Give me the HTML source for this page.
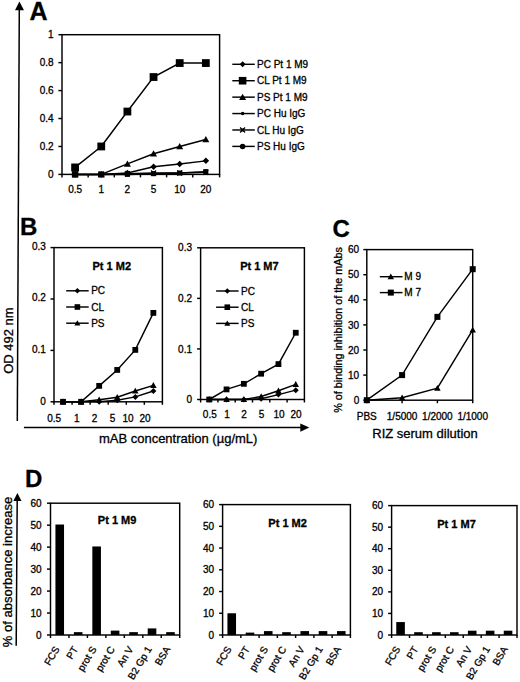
<!DOCTYPE html>
<html><head><meta charset="utf-8"><style>
html,body{margin:0;padding:0;background:#fff;}
body{width:520px;height:682px;overflow:hidden;}
svg{display:block;}
text{font-family:"Liberation Sans",sans-serif;fill:#000;stroke:#000;stroke-width:0.3px;}
</style></head><body>
<svg width="520" height="682" viewBox="0 0 520 682">
<g stroke="#000" fill="#000" stroke-linecap="butt">
<line x1="19.30" y1="9.00" x2="17.30" y2="421.00" stroke-width="1.5"/>
<path d="M19.4 1.4L24 10.2L15 10.2Z" stroke="none"/>
<text x="29.40" y="19.50" font-size="25" text-anchor="start" font-weight="bold" >A</text>
<text x="19.90" y="234.90" font-size="24" text-anchor="start" font-weight="bold" >B</text>
<text x="332.60" y="236.60" font-size="24" text-anchor="start" font-weight="bold" >C</text>
<text x="25.00" y="486.50" font-size="24" text-anchor="start" font-weight="bold" >D</text>
<text x="0.00" y="0.00" font-size="13" text-anchor="middle" transform="translate(13.4 340.6) rotate(-90)">OD 492 nm</text>
<line x1="23.90" y1="427.50" x2="301.00" y2="427.50" stroke-width="1.5"/>
<path d="M309.3 427.6L300.3 423.4L300.3 431.8Z" stroke="none"/>
<text x="98.90" y="442.60" font-size="13" text-anchor="start" >mAB concentration (&#181;g/mL)</text>
<rect x="62.0" y="34.7" width="157.6" height="139.7" fill="none" stroke-width="1.45"/>
<line x1="58.40" y1="174.40" x2="62.00" y2="174.40" stroke-width="1.45"/>
<text x="53.60" y="178.00" font-size="10" text-anchor="end" >0</text>
<line x1="58.40" y1="146.46" x2="62.00" y2="146.46" stroke-width="1.45"/>
<text x="53.60" y="150.06" font-size="10" text-anchor="end" >0.2</text>
<line x1="58.40" y1="118.52" x2="62.00" y2="118.52" stroke-width="1.45"/>
<text x="53.60" y="122.12" font-size="10" text-anchor="end" >0.4</text>
<line x1="58.40" y1="90.58" x2="62.00" y2="90.58" stroke-width="1.45"/>
<text x="53.60" y="94.18" font-size="10" text-anchor="end" >0.6</text>
<line x1="58.40" y1="62.64" x2="62.00" y2="62.64" stroke-width="1.45"/>
<text x="53.60" y="66.24" font-size="10" text-anchor="end" >0.8</text>
<line x1="58.40" y1="34.70" x2="62.00" y2="34.70" stroke-width="1.45"/>
<text x="53.60" y="38.30" font-size="10" text-anchor="end" >1</text>
<line x1="62.00" y1="174.40" x2="62.00" y2="177.40" stroke-width="1.45"/>
<line x1="88.15" y1="174.40" x2="88.15" y2="177.40" stroke-width="1.45"/>
<line x1="114.30" y1="174.40" x2="114.30" y2="177.40" stroke-width="1.45"/>
<line x1="140.45" y1="174.40" x2="140.45" y2="177.40" stroke-width="1.45"/>
<line x1="166.60" y1="174.40" x2="166.60" y2="177.40" stroke-width="1.45"/>
<line x1="192.75" y1="174.40" x2="192.75" y2="177.40" stroke-width="1.45"/>
<line x1="219.60" y1="174.40" x2="219.60" y2="177.40" stroke-width="1.45"/>
<text x="75.10" y="193.00" font-size="10" text-anchor="middle" >0.5</text>
<text x="101.25" y="193.00" font-size="10" text-anchor="middle" >1</text>
<text x="127.40" y="193.00" font-size="10" text-anchor="middle" >2</text>
<text x="153.55" y="193.00" font-size="10" text-anchor="middle" >5</text>
<text x="179.70" y="193.00" font-size="10" text-anchor="middle" >10</text>
<text x="205.85" y="193.00" font-size="10" text-anchor="middle" >20</text>
<path d="M75.10 174.40L101.25 174.40L127.40 174.40L153.55 173.70L179.70 173.00L205.85 171.61" fill="none" stroke-width="1.45"/>
<rect x="72.60" y="171.90" width="5.00" height="5.00" stroke="none"/>
<rect x="98.75" y="171.90" width="5.00" height="5.00" stroke="none"/>
<rect x="124.90" y="171.90" width="5.00" height="5.00" stroke="none"/>
<rect x="151.05" y="171.20" width="5.00" height="5.00" stroke="none"/>
<rect x="177.20" y="170.50" width="5.00" height="5.00" stroke="none"/>
<rect x="203.35" y="169.11" width="5.00" height="5.00" stroke="none"/>
<path d="M75.10 174.40L101.25 174.40L127.40 173.70L153.55 173.00L179.70 173.00L205.85 172.30" fill="none" stroke-width="1.45"/>
<path d="M72.60 171.90L77.60 176.90M77.60 171.90L72.60 176.90" stroke-width="1.2" fill="none"/>
<rect x="73.60" y="172.90" width="3.00" height="3.00" stroke="none"/>
<path d="M98.75 171.90L103.75 176.90M103.75 171.90L98.75 176.90" stroke-width="1.2" fill="none"/>
<rect x="99.75" y="172.90" width="3.00" height="3.00" stroke="none"/>
<path d="M124.90 171.20L129.90 176.20M129.90 171.20L124.90 176.20" stroke-width="1.2" fill="none"/>
<rect x="125.90" y="172.20" width="3.00" height="3.00" stroke="none"/>
<path d="M151.05 170.50L156.05 175.50M156.05 170.50L151.05 175.50" stroke-width="1.2" fill="none"/>
<rect x="152.05" y="171.50" width="3.00" height="3.00" stroke="none"/>
<path d="M177.20 170.50L182.20 175.50M182.20 170.50L177.20 175.50" stroke-width="1.2" fill="none"/>
<rect x="178.20" y="171.50" width="3.00" height="3.00" stroke="none"/>
<path d="M203.35 169.80L208.35 174.80M208.35 169.80L203.35 174.80" stroke-width="1.2" fill="none"/>
<rect x="204.35" y="170.80" width="3.00" height="3.00" stroke="none"/>
<path d="M75.10 174.40L101.25 174.40L127.40 173.00L153.55 166.72L179.70 163.92L205.85 160.85" fill="none" stroke-width="1.45"/>
<path d="M75.10 171.15L78.35 174.40L75.10 177.65L71.85 174.40Z" stroke="none"/>
<path d="M101.25 171.15L104.50 174.40L101.25 177.65L98.00 174.40Z" stroke="none"/>
<path d="M127.40 169.75L130.65 173.00L127.40 176.25L124.15 173.00Z" stroke="none"/>
<path d="M153.55 163.47L156.80 166.72L153.55 169.97L150.30 166.72Z" stroke="none"/>
<path d="M179.70 160.67L182.95 163.92L179.70 167.17L176.45 163.92Z" stroke="none"/>
<path d="M205.85 157.60L209.10 160.85L205.85 164.10L202.60 160.85Z" stroke="none"/>
<path d="M101.25 174.40L127.40 163.92L153.55 153.72L179.70 146.46L205.85 139.48" fill="none" stroke-width="1.45"/>
<path d="M101.25 170.90L104.75 177.20L97.75 177.20Z" stroke="none"/>
<path d="M127.40 160.42L130.90 166.72L123.90 166.72Z" stroke="none"/>
<path d="M153.55 150.22L157.05 156.52L150.05 156.52Z" stroke="none"/>
<path d="M179.70 142.96L183.20 149.26L176.20 149.26Z" stroke="none"/>
<path d="M205.85 135.98L209.35 142.28L202.35 142.28Z" stroke="none"/>
<path d="M75.10 167.42L101.25 146.46L127.40 111.54L153.55 77.03L179.70 63.06L205.85 63.06" fill="none" stroke-width="1.45"/>
<rect x="71.20" y="163.52" width="7.80" height="7.80" stroke="none"/>
<rect x="97.35" y="142.56" width="7.80" height="7.80" stroke="none"/>
<rect x="123.50" y="107.64" width="7.80" height="7.80" stroke="none"/>
<rect x="149.65" y="73.13" width="7.80" height="7.80" stroke="none"/>
<rect x="175.80" y="59.16" width="7.80" height="7.80" stroke="none"/>
<rect x="201.95" y="59.16" width="7.80" height="7.80" stroke="none"/>
<rect x="71.85" y="171.15" width="6.50" height="6.50" stroke="none"/>
<rect x="98.25" y="171.40" width="6.00" height="6.00" stroke="none"/>
<line x1="232.30" y1="64.30" x2="254.80" y2="64.30" stroke-width="1.45"/>
<path d="M242.60 61.30L245.60 64.30L242.60 67.30L239.60 64.30Z" stroke="none"/>
<text x="257.00" y="67.90" font-size="10" text-anchor="start" >PC Pt 1 M9</text>
<line x1="232.30" y1="80.72" x2="254.80" y2="80.72" stroke-width="1.45"/>
<rect x="238.80" y="76.92" width="7.60" height="7.60" stroke="none"/>
<text x="257.00" y="84.32" font-size="10" text-anchor="start" >CL Pt 1 M9</text>
<line x1="232.30" y1="97.14" x2="254.80" y2="97.14" stroke-width="1.45"/>
<path d="M242.60 93.64L246.10 99.94L239.10 99.94Z" stroke="none"/>
<text x="257.00" y="100.74" font-size="10" text-anchor="start" >PS Pt 1 M9</text>
<line x1="232.30" y1="113.56" x2="254.80" y2="113.56" stroke-width="1.45"/>
<circle cx="242.60" cy="113.56" r="1.75" stroke="none"/>
<text x="257.00" y="117.16" font-size="10" text-anchor="start" >PC Hu IgG</text>
<line x1="232.30" y1="129.98" x2="254.80" y2="129.98" stroke-width="1.45"/>
<path d="M240.10 127.48L245.10 132.48M245.10 127.48L240.10 132.48" stroke-width="1.2" fill="none"/>
<rect x="241.10" y="128.48" width="3.00" height="3.00" stroke="none"/>
<text x="257.00" y="133.58" font-size="10" text-anchor="start" >CL Hu IgG</text>
<line x1="232.30" y1="146.40" x2="254.80" y2="146.40" stroke-width="1.45"/>
<circle cx="242.60" cy="146.40" r="2.75" stroke="none"/>
<text x="257.00" y="150.00" font-size="10" text-anchor="start" >PS Hu IgG</text>
<rect x="54.0" y="247.6" width="108.4" height="154.20000000000002" fill="none" stroke-width="1.45"/>
<line x1="50.50" y1="401.80" x2="54.00" y2="401.80" stroke-width="1.45"/>
<text x="45.80" y="405.00" font-size="10" text-anchor="end" >0</text>
<line x1="50.50" y1="350.40" x2="54.00" y2="350.40" stroke-width="1.45"/>
<text x="45.80" y="353.20" font-size="10" text-anchor="end" >0.1</text>
<line x1="50.50" y1="299.00" x2="54.00" y2="299.00" stroke-width="1.45"/>
<text x="45.80" y="301.40" font-size="10" text-anchor="end" >0.2</text>
<line x1="50.50" y1="247.60" x2="54.00" y2="247.60" stroke-width="1.45"/>
<text x="45.80" y="249.60" font-size="10" text-anchor="end" >0.3</text>
<line x1="54.00" y1="401.80" x2="54.00" y2="404.80" stroke-width="1.45"/>
<line x1="72.07" y1="401.80" x2="72.07" y2="404.80" stroke-width="1.45"/>
<line x1="90.13" y1="401.80" x2="90.13" y2="404.80" stroke-width="1.45"/>
<line x1="108.20" y1="401.80" x2="108.20" y2="404.80" stroke-width="1.45"/>
<line x1="126.27" y1="401.80" x2="126.27" y2="404.80" stroke-width="1.45"/>
<line x1="144.33" y1="401.80" x2="144.33" y2="404.80" stroke-width="1.45"/>
<line x1="162.40" y1="401.80" x2="162.40" y2="404.80" stroke-width="1.45"/>
<text x="54.20" y="421.80" font-size="10" text-anchor="middle" >0.5</text>
<text x="76.70" y="421.80" font-size="10" text-anchor="middle" >1</text>
<text x="94.50" y="421.80" font-size="10" text-anchor="middle" >2</text>
<text x="112.50" y="421.80" font-size="10" text-anchor="middle" >5</text>
<text x="128.00" y="421.80" font-size="10" text-anchor="middle" >10</text>
<text x="145.00" y="421.80" font-size="10" text-anchor="middle" >20</text>
<path d="M63.03 401.80L81.10 401.80L99.17 401.80L117.23 400.26L135.30 396.92L153.37 391.01" fill="none" stroke-width="1.45"/>
<path d="M63.03 398.80L66.03 401.80L63.03 404.80L60.03 401.80Z" stroke="none"/>
<path d="M81.10 398.80L84.10 401.80L81.10 404.80L78.10 401.80Z" stroke="none"/>
<path d="M99.17 398.80L102.17 401.80L99.17 404.80L96.17 401.80Z" stroke="none"/>
<path d="M117.23 397.26L120.23 400.26L117.23 403.26L114.23 400.26Z" stroke="none"/>
<path d="M135.30 393.92L138.30 396.92L135.30 399.92L132.30 396.92Z" stroke="none"/>
<path d="M153.37 388.01L156.37 391.01L153.37 394.01L150.37 391.01Z" stroke="none"/>
<path d="M63.03 401.80L81.10 401.80L99.17 399.74L117.23 397.17L135.30 391.01L153.37 385.35" fill="none" stroke-width="1.45"/>
<path d="M63.03 398.55L66.28 404.40L59.78 404.40Z" stroke="none"/>
<path d="M81.10 398.55L84.35 404.40L77.85 404.40Z" stroke="none"/>
<path d="M99.17 396.49L102.42 402.34L95.92 402.34Z" stroke="none"/>
<path d="M117.23 393.92L120.48 399.77L113.98 399.77Z" stroke="none"/>
<path d="M135.30 387.76L138.55 393.61L132.05 393.61Z" stroke="none"/>
<path d="M153.37 382.10L156.62 387.95L150.12 387.95Z" stroke="none"/>
<path d="M63.03 401.80L81.10 401.80L99.17 385.87L117.23 369.93L135.30 349.89L153.37 312.88" fill="none" stroke-width="1.45"/>
<rect x="60.13" y="398.90" width="5.80" height="5.80" stroke="none"/>
<rect x="78.20" y="398.90" width="5.80" height="5.80" stroke="none"/>
<rect x="96.27" y="382.97" width="5.80" height="5.80" stroke="none"/>
<rect x="114.33" y="367.03" width="5.80" height="5.80" stroke="none"/>
<rect x="132.40" y="346.99" width="5.80" height="5.80" stroke="none"/>
<rect x="150.47" y="309.98" width="5.80" height="5.80" stroke="none"/>
<text x="111.80" y="269.60" font-size="11" text-anchor="middle" font-weight="bold" >Pt 1 M2</text>
<line x1="66.20" y1="290.80" x2="88.70" y2="290.80" stroke-width="1.45"/>
<path d="M77.40 288.05L80.15 290.80L77.40 293.55L74.65 290.80Z" stroke="none"/>
<text x="91.20" y="294.40" font-size="10" text-anchor="start" >PC</text>
<line x1="66.20" y1="307.00" x2="88.70" y2="307.00" stroke-width="1.45"/>
<rect x="74.60" y="304.20" width="5.60" height="5.60" stroke="none"/>
<text x="91.20" y="310.60" font-size="10" text-anchor="start" >CL</text>
<line x1="66.20" y1="323.20" x2="88.70" y2="323.20" stroke-width="1.45"/>
<path d="M77.40 320.20L80.40 325.60L74.40 325.60Z" stroke="none"/>
<text x="91.20" y="326.80" font-size="10" text-anchor="start" >PS</text>
<rect x="200.6" y="247.8" width="103.79999999999998" height="151.7" fill="none" stroke-width="1.45"/>
<line x1="197.10" y1="399.50" x2="200.60" y2="399.50" stroke-width="1.45"/>
<text x="192.00" y="403.10" font-size="10" text-anchor="end" >0</text>
<line x1="197.10" y1="348.93" x2="200.60" y2="348.93" stroke-width="1.45"/>
<text x="192.00" y="352.53" font-size="10" text-anchor="end" >0.1</text>
<line x1="197.10" y1="298.37" x2="200.60" y2="298.37" stroke-width="1.45"/>
<text x="192.00" y="301.97" font-size="10" text-anchor="end" >0.2</text>
<line x1="197.10" y1="247.80" x2="200.60" y2="247.80" stroke-width="1.45"/>
<text x="192.00" y="251.40" font-size="10" text-anchor="end" >0.3</text>
<line x1="200.60" y1="399.50" x2="200.60" y2="402.50" stroke-width="1.45"/>
<line x1="217.90" y1="399.50" x2="217.90" y2="402.50" stroke-width="1.45"/>
<line x1="235.20" y1="399.50" x2="235.20" y2="402.50" stroke-width="1.45"/>
<line x1="252.50" y1="399.50" x2="252.50" y2="402.50" stroke-width="1.45"/>
<line x1="269.80" y1="399.50" x2="269.80" y2="402.50" stroke-width="1.45"/>
<line x1="287.10" y1="399.50" x2="287.10" y2="402.50" stroke-width="1.45"/>
<line x1="304.40" y1="399.50" x2="304.40" y2="402.50" stroke-width="1.45"/>
<text x="209.80" y="418.30" font-size="10" text-anchor="middle" >0.5</text>
<text x="227.00" y="418.30" font-size="10" text-anchor="middle" >1</text>
<text x="244.00" y="418.30" font-size="10" text-anchor="middle" >2</text>
<text x="261.50" y="418.30" font-size="10" text-anchor="middle" >5</text>
<text x="279.00" y="418.30" font-size="10" text-anchor="middle" >10</text>
<text x="296.00" y="418.30" font-size="10" text-anchor="middle" >20</text>
<path d="M209.25 399.50L226.55 399.50L243.85 399.50L261.15 398.74L278.45 394.60L295.75 390.15" fill="none" stroke-width="1.45"/>
<path d="M209.25 396.50L212.25 399.50L209.25 402.50L206.25 399.50Z" stroke="none"/>
<path d="M226.55 396.50L229.55 399.50L226.55 402.50L223.55 399.50Z" stroke="none"/>
<path d="M243.85 396.50L246.85 399.50L243.85 402.50L240.85 399.50Z" stroke="none"/>
<path d="M261.15 395.74L264.15 398.74L261.15 401.74L258.15 398.74Z" stroke="none"/>
<path d="M278.45 391.60L281.45 394.60L278.45 397.60L275.45 394.60Z" stroke="none"/>
<path d="M295.75 387.15L298.75 390.15L295.75 393.15L292.75 390.15Z" stroke="none"/>
<path d="M209.25 399.50L226.55 399.50L243.85 399.50L261.15 396.47L278.45 390.80L295.75 384.33" fill="none" stroke-width="1.45"/>
<path d="M209.25 396.25L212.50 402.10L206.00 402.10Z" stroke="none"/>
<path d="M226.55 396.25L229.80 402.10L223.30 402.10Z" stroke="none"/>
<path d="M243.85 396.25L247.10 402.10L240.60 402.10Z" stroke="none"/>
<path d="M261.15 393.22L264.40 399.07L257.90 399.07Z" stroke="none"/>
<path d="M278.45 387.55L281.70 393.40L275.20 393.40Z" stroke="none"/>
<path d="M295.75 381.08L299.00 386.93L292.50 386.93Z" stroke="none"/>
<path d="M209.25 399.50L226.55 389.39L243.85 383.82L261.15 373.71L278.45 364.10L295.75 332.75" fill="none" stroke-width="1.45"/>
<rect x="206.35" y="396.60" width="5.80" height="5.80" stroke="none"/>
<rect x="223.65" y="386.49" width="5.80" height="5.80" stroke="none"/>
<rect x="240.95" y="380.92" width="5.80" height="5.80" stroke="none"/>
<rect x="258.25" y="370.81" width="5.80" height="5.80" stroke="none"/>
<rect x="275.55" y="361.20" width="5.80" height="5.80" stroke="none"/>
<rect x="292.85" y="329.85" width="5.80" height="5.80" stroke="none"/>
<text x="259.40" y="269.80" font-size="11" text-anchor="middle" font-weight="bold" >Pt 1 M7</text>
<line x1="216.10" y1="291.00" x2="238.60" y2="291.00" stroke-width="1.45"/>
<path d="M227.30 288.25L230.05 291.00L227.30 293.75L224.55 291.00Z" stroke="none"/>
<text x="241.10" y="294.60" font-size="10" text-anchor="start" >PC</text>
<line x1="216.10" y1="307.20" x2="238.60" y2="307.20" stroke-width="1.45"/>
<rect x="224.50" y="304.40" width="5.60" height="5.60" stroke="none"/>
<text x="241.10" y="310.80" font-size="10" text-anchor="start" >CL</text>
<line x1="216.10" y1="323.40" x2="238.60" y2="323.40" stroke-width="1.45"/>
<path d="M227.30 320.40L230.30 325.80L224.30 325.80Z" stroke="none"/>
<text x="241.10" y="327.00" font-size="10" text-anchor="start" >PS</text>
<rect x="366.8" y="249.6" width="105.89999999999998" height="150.6" fill="none" stroke-width="1.45"/>
<line x1="363.30" y1="400.20" x2="366.80" y2="400.20" stroke-width="1.45"/>
<text x="359.20" y="403.80" font-size="10" text-anchor="end" >0</text>
<line x1="363.30" y1="375.10" x2="366.80" y2="375.10" stroke-width="1.45"/>
<text x="359.20" y="378.70" font-size="10" text-anchor="end" >10</text>
<line x1="363.30" y1="350.00" x2="366.80" y2="350.00" stroke-width="1.45"/>
<text x="359.20" y="353.60" font-size="10" text-anchor="end" >20</text>
<line x1="363.30" y1="324.90" x2="366.80" y2="324.90" stroke-width="1.45"/>
<text x="359.20" y="328.50" font-size="10" text-anchor="end" >30</text>
<line x1="363.30" y1="299.80" x2="366.80" y2="299.80" stroke-width="1.45"/>
<text x="359.20" y="303.40" font-size="10" text-anchor="end" >40</text>
<line x1="363.30" y1="274.70" x2="366.80" y2="274.70" stroke-width="1.45"/>
<text x="359.20" y="278.30" font-size="10" text-anchor="end" >50</text>
<line x1="363.30" y1="249.60" x2="366.80" y2="249.60" stroke-width="1.45"/>
<text x="359.20" y="253.20" font-size="10" text-anchor="end" >60</text>
<line x1="366.80" y1="400.20" x2="366.80" y2="403.20" stroke-width="1.45"/>
<line x1="402.10" y1="400.20" x2="402.10" y2="403.20" stroke-width="1.45"/>
<line x1="437.40" y1="400.20" x2="437.40" y2="403.20" stroke-width="1.45"/>
<line x1="472.70" y1="400.20" x2="472.70" y2="403.20" stroke-width="1.45"/>
<text x="366.80" y="419.60" font-size="10" text-anchor="middle" >PBS</text>
<text x="402.10" y="419.60" font-size="10" text-anchor="middle" >1/5000</text>
<text x="437.40" y="419.60" font-size="10" text-anchor="middle" >1/2000</text>
<text x="472.70" y="419.60" font-size="10" text-anchor="middle" >1/1000</text>
<text x="0.00" y="0.00" font-size="10.8" text-anchor="middle" transform="translate(342.2 330.0) rotate(-90)">% of binding inhibition of the mAbs</text>
<text x="425.00" y="437.70" font-size="13" text-anchor="middle" >RIZ serum dilution</text>
<path d="M366.80 400.20L402.10 397.69L437.40 388.15L472.70 329.92" fill="none" stroke-width="1.45"/>
<path d="M366.80 396.95L370.05 402.80L363.55 402.80Z" stroke="none"/>
<path d="M402.10 394.44L405.35 400.29L398.85 400.29Z" stroke="none"/>
<path d="M437.40 384.90L440.65 390.75L434.15 390.75Z" stroke="none"/>
<path d="M472.70 326.67L475.95 332.52L469.45 332.52Z" stroke="none"/>
<path d="M366.80 400.20L402.10 375.10L437.40 316.87L472.70 269.18" fill="none" stroke-width="1.45"/>
<rect x="363.80" y="397.20" width="6.00" height="6.00" stroke="none"/>
<rect x="399.10" y="372.10" width="6.00" height="6.00" stroke="none"/>
<rect x="434.40" y="313.87" width="6.00" height="6.00" stroke="none"/>
<rect x="469.70" y="266.18" width="6.00" height="6.00" stroke="none"/>
<line x1="379.80" y1="276.70" x2="402.50" y2="276.70" stroke-width="1.45"/>
<path d="M390.80 273.45L394.05 279.30L387.55 279.30Z" stroke="none"/>
<text x="404.30" y="280.30" font-size="10" text-anchor="start" >M 9</text>
<line x1="379.80" y1="292.60" x2="402.50" y2="292.60" stroke-width="1.45"/>
<rect x="387.80" y="289.60" width="6.00" height="6.00" stroke="none"/>
<text x="404.30" y="296.20" font-size="10" text-anchor="start" >M 7</text>
<line x1="17.20" y1="500.00" x2="16.20" y2="645.70" stroke-width="1.5"/>
<path d="M17.4 492.9L21.5 500.9L13.4 500.9Z" stroke="none"/>
<text x="0.00" y="0.00" font-size="13" text-anchor="middle" transform="translate(11.9 572) rotate(-90)">% of absorbance increase</text>
<rect x="50.5" y="503.2" width="129.2" height="131.8" fill="none" stroke-width="1.45"/>
<line x1="47.00" y1="635.00" x2="50.50" y2="635.00" stroke-width="1.45"/>
<text x="41.60" y="638.60" font-size="10" text-anchor="end" >0</text>
<line x1="47.00" y1="613.03" x2="50.50" y2="613.03" stroke-width="1.45"/>
<text x="41.60" y="616.63" font-size="10" text-anchor="end" >10</text>
<line x1="47.00" y1="591.07" x2="50.50" y2="591.07" stroke-width="1.45"/>
<text x="41.60" y="594.67" font-size="10" text-anchor="end" >20</text>
<line x1="47.00" y1="569.10" x2="50.50" y2="569.10" stroke-width="1.45"/>
<text x="41.60" y="572.70" font-size="10" text-anchor="end" >30</text>
<line x1="47.00" y1="547.13" x2="50.50" y2="547.13" stroke-width="1.45"/>
<text x="41.60" y="550.73" font-size="10" text-anchor="end" >40</text>
<line x1="47.00" y1="525.17" x2="50.50" y2="525.17" stroke-width="1.45"/>
<text x="41.60" y="528.77" font-size="10" text-anchor="end" >50</text>
<line x1="47.00" y1="503.20" x2="50.50" y2="503.20" stroke-width="1.45"/>
<text x="41.60" y="506.80" font-size="10" text-anchor="end" >60</text>
<line x1="50.50" y1="635.00" x2="50.50" y2="638.00" stroke-width="1.45"/>
<line x1="68.96" y1="635.00" x2="68.96" y2="638.00" stroke-width="1.45"/>
<line x1="87.41" y1="635.00" x2="87.41" y2="638.00" stroke-width="1.45"/>
<line x1="105.87" y1="635.00" x2="105.87" y2="638.00" stroke-width="1.45"/>
<line x1="124.33" y1="635.00" x2="124.33" y2="638.00" stroke-width="1.45"/>
<line x1="142.79" y1="635.00" x2="142.79" y2="638.00" stroke-width="1.45"/>
<line x1="161.24" y1="635.00" x2="161.24" y2="638.00" stroke-width="1.45"/>
<line x1="179.70" y1="635.00" x2="179.70" y2="638.00" stroke-width="1.45"/>
<rect x="55.43" y="524.51" width="8.6" height="110.49" stroke="none"/>
<text x="0.00" y="0.00" font-size="10" text-anchor="end" transform="translate(59.93 649.00) rotate(-59)">FCS</text>
<rect x="73.89" y="632.14" width="8.6" height="2.86" stroke="none"/>
<text x="0.00" y="0.00" font-size="10" text-anchor="end" transform="translate(78.39 649.00) rotate(-59)">PT</text>
<rect x="92.34" y="546.47" width="8.6" height="88.53" stroke="none"/>
<text x="0.00" y="0.00" font-size="10" text-anchor="end" transform="translate(96.84 649.00) rotate(-59)">prot S</text>
<rect x="110.80" y="630.61" width="8.6" height="4.39" stroke="none"/>
<text x="0.00" y="0.00" font-size="10" text-anchor="end" transform="translate(115.30 649.00) rotate(-59)">prot C</text>
<rect x="129.26" y="632.14" width="8.6" height="2.86" stroke="none"/>
<text x="0.00" y="0.00" font-size="10" text-anchor="end" transform="translate(133.76 649.00) rotate(-59)">An V</text>
<rect x="147.71" y="628.41" width="8.6" height="6.59" stroke="none"/>
<text x="0.00" y="0.00" font-size="10" text-anchor="end" transform="translate(152.21 649.00) rotate(-59)">B2 Gp 1</text>
<rect x="166.17" y="632.14" width="8.6" height="2.86" stroke="none"/>
<text x="0.00" y="0.00" font-size="10" text-anchor="end" transform="translate(170.67 649.00) rotate(-59)">BSA</text>
<text x="117.10" y="523.80" font-size="11" text-anchor="middle" font-weight="bold" >Pt 1 M9</text>
<rect x="222.6" y="504.6" width="127.79999999999998" height="130.39999999999998" fill="none" stroke-width="1.45"/>
<line x1="219.10" y1="635.00" x2="222.60" y2="635.00" stroke-width="1.45"/>
<text x="214.00" y="638.60" font-size="10" text-anchor="end" >0</text>
<line x1="219.10" y1="613.27" x2="222.60" y2="613.27" stroke-width="1.45"/>
<text x="214.00" y="616.87" font-size="10" text-anchor="end" >10</text>
<line x1="219.10" y1="591.53" x2="222.60" y2="591.53" stroke-width="1.45"/>
<text x="214.00" y="595.13" font-size="10" text-anchor="end" >20</text>
<line x1="219.10" y1="569.80" x2="222.60" y2="569.80" stroke-width="1.45"/>
<text x="214.00" y="573.40" font-size="10" text-anchor="end" >30</text>
<line x1="219.10" y1="548.07" x2="222.60" y2="548.07" stroke-width="1.45"/>
<text x="214.00" y="551.67" font-size="10" text-anchor="end" >40</text>
<line x1="219.10" y1="526.33" x2="222.60" y2="526.33" stroke-width="1.45"/>
<text x="214.00" y="529.93" font-size="10" text-anchor="end" >50</text>
<line x1="219.10" y1="504.60" x2="222.60" y2="504.60" stroke-width="1.45"/>
<text x="214.00" y="508.20" font-size="10" text-anchor="end" >60</text>
<line x1="222.60" y1="635.00" x2="222.60" y2="638.00" stroke-width="1.45"/>
<line x1="240.86" y1="635.00" x2="240.86" y2="638.00" stroke-width="1.45"/>
<line x1="259.11" y1="635.00" x2="259.11" y2="638.00" stroke-width="1.45"/>
<line x1="277.37" y1="635.00" x2="277.37" y2="638.00" stroke-width="1.45"/>
<line x1="295.63" y1="635.00" x2="295.63" y2="638.00" stroke-width="1.45"/>
<line x1="313.89" y1="635.00" x2="313.89" y2="638.00" stroke-width="1.45"/>
<line x1="332.14" y1="635.00" x2="332.14" y2="638.00" stroke-width="1.45"/>
<line x1="350.40" y1="635.00" x2="350.40" y2="638.00" stroke-width="1.45"/>
<rect x="227.43" y="613.27" width="8.6" height="21.73" stroke="none"/>
<text x="0.00" y="0.00" font-size="10" text-anchor="end" transform="translate(231.93 649.00) rotate(-59)">FCS</text>
<rect x="245.69" y="632.61" width="8.6" height="2.39" stroke="none"/>
<text x="0.00" y="0.00" font-size="10" text-anchor="end" transform="translate(250.19 649.00) rotate(-59)">PT</text>
<rect x="263.94" y="631.09" width="8.6" height="3.91" stroke="none"/>
<text x="0.00" y="0.00" font-size="10" text-anchor="end" transform="translate(268.44 649.00) rotate(-59)">prot S</text>
<rect x="282.20" y="632.17" width="8.6" height="2.83" stroke="none"/>
<text x="0.00" y="0.00" font-size="10" text-anchor="end" transform="translate(286.70 649.00) rotate(-59)">prot C</text>
<rect x="300.46" y="631.09" width="8.6" height="3.91" stroke="none"/>
<text x="0.00" y="0.00" font-size="10" text-anchor="end" transform="translate(304.96 649.00) rotate(-59)">An V</text>
<rect x="318.71" y="631.09" width="8.6" height="3.91" stroke="none"/>
<text x="0.00" y="0.00" font-size="10" text-anchor="end" transform="translate(323.21 649.00) rotate(-59)">B2 Gp 1</text>
<rect x="336.97" y="631.09" width="8.6" height="3.91" stroke="none"/>
<text x="0.00" y="0.00" font-size="10" text-anchor="end" transform="translate(341.47 649.00) rotate(-59)">BSA</text>
<text x="287.60" y="526.80" font-size="11" text-anchor="middle" font-weight="bold" >Pt 1 M2</text>
<rect x="391.6" y="505.6" width="125.39999999999998" height="129.39999999999998" fill="none" stroke-width="1.45"/>
<line x1="388.10" y1="635.00" x2="391.60" y2="635.00" stroke-width="1.45"/>
<text x="383.00" y="638.60" font-size="10" text-anchor="end" >0</text>
<line x1="388.10" y1="613.43" x2="391.60" y2="613.43" stroke-width="1.45"/>
<text x="383.00" y="617.03" font-size="10" text-anchor="end" >10</text>
<line x1="388.10" y1="591.87" x2="391.60" y2="591.87" stroke-width="1.45"/>
<text x="383.00" y="595.47" font-size="10" text-anchor="end" >20</text>
<line x1="388.10" y1="570.30" x2="391.60" y2="570.30" stroke-width="1.45"/>
<text x="383.00" y="573.90" font-size="10" text-anchor="end" >30</text>
<line x1="388.10" y1="548.73" x2="391.60" y2="548.73" stroke-width="1.45"/>
<text x="383.00" y="552.33" font-size="10" text-anchor="end" >40</text>
<line x1="388.10" y1="527.17" x2="391.60" y2="527.17" stroke-width="1.45"/>
<text x="383.00" y="530.77" font-size="10" text-anchor="end" >50</text>
<line x1="388.10" y1="505.60" x2="391.60" y2="505.60" stroke-width="1.45"/>
<text x="383.00" y="509.20" font-size="10" text-anchor="end" >60</text>
<line x1="391.60" y1="635.00" x2="391.60" y2="638.00" stroke-width="1.45"/>
<line x1="409.51" y1="635.00" x2="409.51" y2="638.00" stroke-width="1.45"/>
<line x1="427.43" y1="635.00" x2="427.43" y2="638.00" stroke-width="1.45"/>
<line x1="445.34" y1="635.00" x2="445.34" y2="638.00" stroke-width="1.45"/>
<line x1="463.26" y1="635.00" x2="463.26" y2="638.00" stroke-width="1.45"/>
<line x1="481.17" y1="635.00" x2="481.17" y2="638.00" stroke-width="1.45"/>
<line x1="499.09" y1="635.00" x2="499.09" y2="638.00" stroke-width="1.45"/>
<line x1="517.00" y1="635.00" x2="517.00" y2="638.00" stroke-width="1.45"/>
<rect x="396.26" y="622.06" width="8.6" height="12.94" stroke="none"/>
<text x="0.00" y="0.00" font-size="10" text-anchor="end" transform="translate(400.76 649.00) rotate(-59)">FCS</text>
<rect x="414.17" y="632.20" width="8.6" height="2.80" stroke="none"/>
<text x="0.00" y="0.00" font-size="10" text-anchor="end" transform="translate(418.67 649.00) rotate(-59)">PT</text>
<rect x="432.09" y="632.20" width="8.6" height="2.80" stroke="none"/>
<text x="0.00" y="0.00" font-size="10" text-anchor="end" transform="translate(436.59 649.00) rotate(-59)">prot S</text>
<rect x="450.00" y="632.20" width="8.6" height="2.80" stroke="none"/>
<text x="0.00" y="0.00" font-size="10" text-anchor="end" transform="translate(454.50 649.00) rotate(-59)">prot C</text>
<rect x="467.91" y="630.69" width="8.6" height="4.31" stroke="none"/>
<text x="0.00" y="0.00" font-size="10" text-anchor="end" transform="translate(472.41 649.00) rotate(-59)">An V</text>
<rect x="485.83" y="630.69" width="8.6" height="4.31" stroke="none"/>
<text x="0.00" y="0.00" font-size="10" text-anchor="end" transform="translate(490.33 649.00) rotate(-59)">B2 Gp 1</text>
<rect x="503.74" y="630.69" width="8.6" height="4.31" stroke="none"/>
<text x="0.00" y="0.00" font-size="10" text-anchor="end" transform="translate(508.24 649.00) rotate(-59)">BSA</text>
<text x="456.50" y="527.80" font-size="11" text-anchor="middle" font-weight="bold" >Pt 1 M7</text>
</g></svg></body></html>
